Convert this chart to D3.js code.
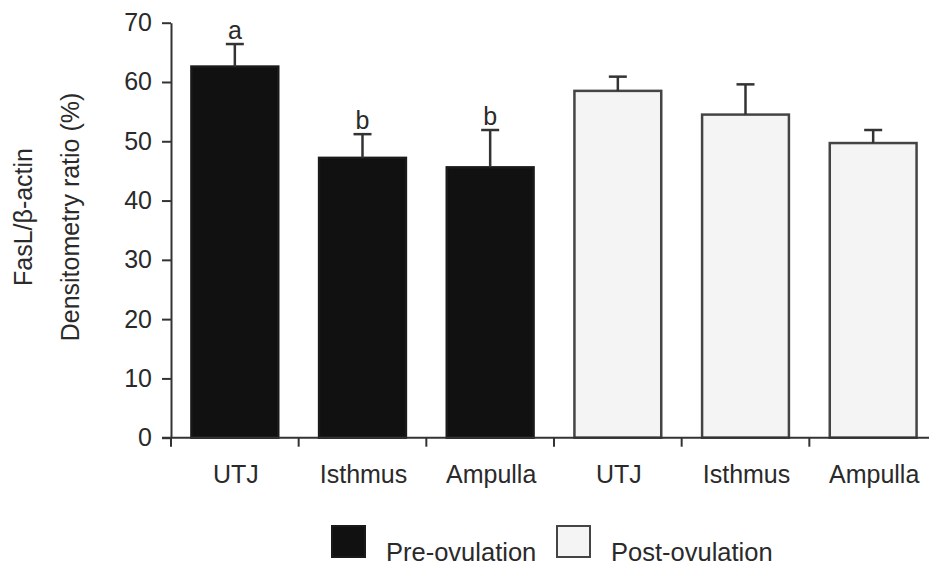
<!DOCTYPE html>
<html>
<head>
<meta charset="utf-8">
<script src="https://cdn.jsdelivr.net/npm/d3@7"></script>
<style>
  body { margin: 0; background: #fff; }
  text { font-family: Arial, "Liberation Sans", sans-serif; fill: #2a2a2a; }
</style>
</head>
<body>
<div id="chart"></div>
<script>

var regions = ["UTJ", "Isthmus", "Ampulla"];
var groups = ["Pre-ovulation", "Post-ovulation"];
var preMeans = [62.6, 47.2, 45.6];
var preSE = [3.8, 4.0, 6.3];
var postMeans = [58.5, 54.5, 49.7];
var postSE = [2.4, 5.1, 2.2];
var preLetters = ["a", "b", "b"];
var yTicks = [0, 10, 20, 30, 40, 50, 60, 70];

var width = 929,
    height = 567;

var margin = { top: 22.7, left: 171, bottom: 129.3 },
    plotRight = 937;

var colors = { "Pre-ovulation": "#111111", "Post-ovulation": "#f4f4f4" };

// one row per bar
var data = [];
groups.forEach(function(g, gi) {
  regions.forEach(function(r, ri) {
    data.push({
      id: g + ":" + r,
      group: g,
      region: r,
      mean: gi == 0 ? preMeans[ri] : postMeans[ri],
      se: gi == 0 ? preSE[ri] : postSE[ri],
      letter: gi == 0 ? preLetters[ri] : ""
    });
  });
});

var svg = d3.select("#chart").append("svg")
    .attr("width", width)
    .attr("height", height);

var x = d3.scaleBand()
    .domain(data.map(function(d) { return d.id; }))
    .range([margin.left, plotRight])
    .paddingInner(0.32)
    .paddingOuter(0.16);

var y = d3.scaleLinear()
    .domain([0, 70])
    .range([height - margin.bottom, margin.top]);

var axisColor = "#333";

/* y axis */
var yAxis = svg.append("g")
    .attr("transform", "translate(" + margin.left + ",0)")
    .call(d3.axisLeft(y).tickValues(yTicks).tickSize(9).tickPadding(10).tickSizeOuter(0));

yAxis.select(".domain").attr("stroke", axisColor).attr("stroke-width", 2);
yAxis.selectAll(".tick line").attr("stroke", axisColor).attr("stroke-width", 2);
yAxis.selectAll(".tick text")
    .style("font-family", "Arial, 'Liberation Sans', sans-serif")
    .style("font-size", "25px")
    .attr("fill", "#2a2a2a");

/* bars */
svg.selectAll(".bar")
  .data(data)
  .enter().append("rect")
    .attr("class", "bar")
    .attr("x", function(d) { return x(d.id); })
    .attr("y", function(d) { return y(d.mean); })
    .attr("width", x.bandwidth())
    .attr("height", function(d) { return y(0) - y(d.mean); })
    .attr("fill", function(d) { return colors[d.group]; })
    .attr("stroke", function(d) { return d.group == groups[0] ? "#1a1a1a" : "#444"; })
    .attr("stroke-width", 2.5);

/* error bars (upper half only) */
var err = svg.selectAll(".err")
  .data(data)
  .enter().append("g")
    .attr("class", "err")
    .attr("stroke", axisColor)
    .attr("stroke-width", 2.5);

err.append("line")
    .attr("x1", function(d) { return x(d.id) + x.bandwidth() / 2; })
    .attr("x2", function(d) { return x(d.id) + x.bandwidth() / 2; })
    .attr("y1", function(d) { return y(d.mean); })
    .attr("y2", function(d) { return y(d.mean + d.se); });

err.append("line")
    .attr("x1", function(d) { return x(d.id) + x.bandwidth() / 2 - 9; })
    .attr("x2", function(d) { return x(d.id) + x.bandwidth() / 2 + 9; })
    .attr("y1", function(d) { return y(d.mean + d.se); })
    .attr("y2", function(d) { return y(d.mean + d.se); });

/* significance letters */
svg.selectAll(".letter")
  .data(data.filter(function(d) { return d.letter; }))
  .enter().append("text")
    .attr("class", "letter")
    .attr("x", function(d) { return x(d.id) + x.bandwidth() / 2; })
    .attr("y", function(d) { return y(d.mean + d.se) - 5; })
    .style("text-anchor", "middle")
    .style("font-size", "25px")
    .text(function(d) { return d.letter; });

/* x axis: line with ticks at the band boundaries */
svg.append("line")
    .attr("x1", margin.left - 9)
    .attr("x2", width)
    .attr("y1", y(0))
    .attr("y2", y(0))
    .attr("stroke", axisColor)
    .attr("stroke-width", 2);

svg.selectAll(".xtick")
  .data(data)
  .enter().append("line")
    .attr("class", "xtick")
    .attr("x1", function(d) { return x(d.id) - x.step() * x.paddingOuter(); })
    .attr("x2", function(d) { return x(d.id) - x.step() * x.paddingOuter(); })
    .attr("y1", y(0))
    .attr("y2", y(0) + 9)
    .attr("stroke", axisColor)
    .attr("stroke-width", 2);

svg.selectAll(".xlabel")
  .data(data)
  .enter().append("text")
    .attr("class", "xlabel")
    .attr("x", function(d) { return x(d.id) + x.bandwidth() / 2 + 1; })
    .attr("y", y(0) + 45)
    .style("text-anchor", "middle")
    .style("font-size", "25px")
    .text(function(d) { return d.region; });

/* y title, two lines */
var yMid = 217;
svg.append("text")
    .attr("transform", "translate(32," + yMid + ") rotate(-90)")
    .style("text-anchor", "middle")
    .style("font-size", "25px")
    .text("FasL/\u03b2-actin");

svg.append("text")
    .attr("transform", "translate(79," + yMid + ") rotate(-90)")
    .style("text-anchor", "middle")
    .style("font-size", "25px")
    .text("Densitometry ratio (%)");

/* legend */
var legendX = [332, 557];
var legend = svg.selectAll(".legend")
  .data(groups)
  .enter().append("g")
    .attr("class", "legend")
    .attr("transform", function(d, i) { return "translate(" + legendX[i] + ",526)"; });

legend.append("rect")
    .attr("width", 33)
    .attr("height", 31)
    .attr("fill", function(d) { return colors[d]; })
    .attr("stroke", function(d, i) { return i == 0 ? "#1a1a1a" : "#444"; })
    .attr("stroke-width", 2);

legend.append("text")
    .attr("x", 54)
    .attr("y", 35)
    .style("font-size", "25.5px")
    .text(function(d) { return d; });

</script>
</body>
</html>
